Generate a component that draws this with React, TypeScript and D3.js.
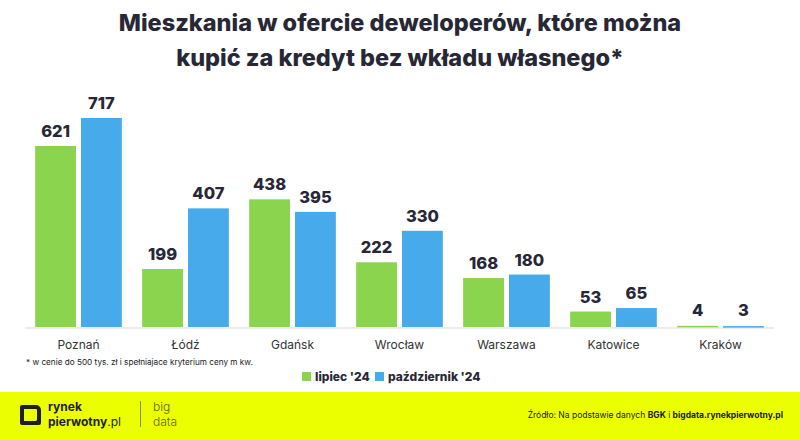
import { useMemo } from "react";
import * as d3 from "d3";

const WIDTH = 800;
const HEIGHT = 440;
const MARGINS = { LEFT: 25, RIGHT: 26, TOP: 118, BOTTOM: 113 };

const cities = ["Poznań", "Łódź", "Gdańsk", "Wrocław", "Warszawa", "Katowice", "Kraków"];
const july = [621, 199, 438, 222, 168, 53, 4];
const october = [717, 407, 395, 330, 180, 65, 3];
const seriesLabels = ["lipiec '24", "październik '24"];
const seriesColors = ["#8ad44e", "#47aaeb"];

const titleLines = [
  "Mieszkania w ofercie deweloperów, które można",
  "kupić za kredyt bez wkładu własnego*",
];

const FONT = "Inter, 'Noto Sans', sans-serif";
const DARK = "#272736";

export default function App() {
  const baseline = HEIGHT - MARGINS.BOTTOM;

  const x = useMemo(
    () =>
      d3
        .scaleBand<string>()
        .domain(cities)
        .range([MARGINS.LEFT, WIDTH - MARGINS.RIGHT])
        .paddingInner(0.19)
        .paddingOuter(0.095),
    []
  );
  const inner = useMemo(
    () =>
      d3
        .scaleBand<number>()
        .domain([0, 1])
        .range([0, x.bandwidth()])
        .paddingInner(0.11),
    [x]
  );
  const y = useMemo(
    () =>
      d3
        .scaleLinear()
        .domain([0, 717])
        .range([baseline, MARGINS.TOP]),
    [baseline]
  );

  const series = [july, october];

  return (
    <svg
      width={WIDTH}
      height={HEIGHT}
      style={{ position: "absolute", top: 0, left: 0, background: "#fff" }}
      fontFamily={FONT}
    >
      <rect width={WIDTH} height={HEIGHT} fill="#fff" />

      {/* title */}
      {titleLines.map((t, i) => (
        <text
          key={i}
          x={WIDTH / 2}
          y={31 + i * 35}
          textAnchor="middle"
          fontSize={23.5}
          fontWeight={800}
          fill={DARK}
        >
          {t}
        </text>
      ))}

      {/* axis baseline */}
      <line
        x1={MARGINS.LEFT}
        x2={WIDTH - MARGINS.RIGHT}
        y1={baseline + 1}
        y2={baseline + 1}
        stroke="#ececec"
        strokeWidth={2}
      />

      {/* bars */}
      {series.map((vals, si) =>
        vals.map((v, ci) => {
          const bx = (x(cities[ci]) ?? 0) + (inner(si) ?? 0);
          const by = y(v);
          return (
            <g key={`${si}-${ci}`}>
              <rect
                x={bx}
                y={by}
                width={inner.bandwidth()}
                height={Math.max(baseline - by, 1.5)}
                fill={seriesColors[si]}
              />
              <text
                x={bx + inner.bandwidth() / 2}
                y={Math.min(by, baseline - 2) - 9}
                textAnchor="middle"
                fontSize={16.5}
                fontWeight={800}
                fill={DARK}
              >
                {v}
              </text>
            </g>
          );
        })
      )}

      {/* category labels */}
      {cities.map((c) => (
        <text
          key={c}
          x={(x(c) ?? 0) + x.bandwidth() / 2}
          y={baseline + 22}
          textAnchor="middle"
          fontSize={12}
          fill="#333"
        >
          {c}
        </text>
      ))}

      {/* footnote */}
      <text x={26} y={365} fontSize={8.2} fill="#222">
        * w cenie do 500 tys. zł i spełniajace kryterium ceny m kw.
      </text>

      {/* legend */}
      {seriesLabels.map((l, i) => {
        const lx = i === 0 ? 302 : 375;
        return (
          <g key={l} transform={`translate(${lx}, 372)`}>
            <rect width={9} height={9} fill={seriesColors[i]} />
            <text x={13} y={9} fontSize={12} fontWeight={800} fill={DARK}>
              {l}
            </text>
          </g>
        );
      })}

      {/* footer */}
      <rect x={0} y={392} width={WIDTH} height={48} fill="#ebff00" />
      <g>
        <path
          d="M22 407 h14 a3 3 0 0 1 3 3 v13 h-17 z"
          fill="none"
          stroke="#1e1e28"
          strokeWidth={4}
          strokeLinejoin="round"
        />
        <path d="M36 423 l3 -3" stroke="#1e1e28" strokeWidth={3} />
        <text x={48} y={411} fontSize={12} fontWeight={700} fill="#1e1e28">
          rynek
        </text>
        <text x={48} y={426} fontSize={12} fill="#1e1e28">
          <tspan fontWeight={700}>pierwotny</tspan>
          <tspan fontWeight={400}>.pl</tspan>
        </text>
        <line x1={140.5} x2={140.5} y1={401} y2={427} stroke="#8a8f1a" strokeWidth={1} />
        <text x={153} y={411} fontSize={12} fontWeight={300} fill="#5e6418">
          big
        </text>
        <text x={153} y={426} fontSize={12} fontWeight={300} fill="#5e6418">
          data
        </text>
      </g>
      <text x={783} y={418} textAnchor="end" fontSize={8.5} fill="#222">
        Źródło: Na podstawie danych <tspan fontWeight={700}>BGK</tspan> i{" "}
        <tspan fontWeight={700}>bigdata.rynekpierwotny.pl</tspan>
      </text>
    </svg>
  );
}
